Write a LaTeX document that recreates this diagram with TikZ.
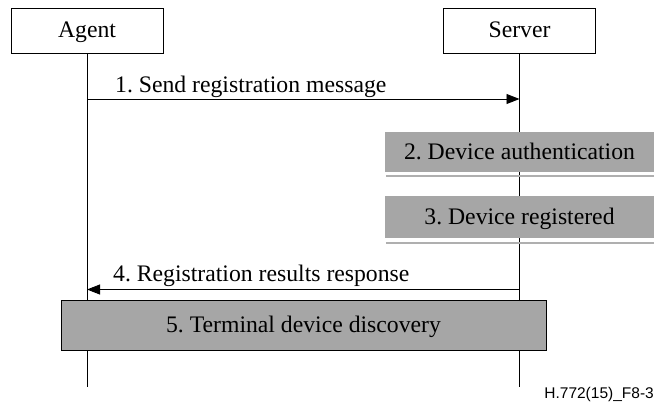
\documentclass[tikz,border=0pt]{standalone}
\usepackage{fontspec}
\setmainfont{Liberation Serif}
\newfontfamily\footfont{Liberation Sans}
\usetikzlibrary{arrows.meta}
\definecolor{boxgrey}{RGB}{166,166,166}
\definecolor{shadowgrey}{RGB}{175,175,175}
\frenchspacing
\begin{document}
\begin{tikzpicture}[x=1pt,y=-1pt,
  every node/.style={font=\fontsize{23.7}{28}\selectfont\frenchspacing, inner sep=0pt},
  boxtext/.style={text height=16pt, text depth=2pt},
  actor/.style={draw, line width=1pt, minimum width=152pt, minimum height=45pt, fill=white, text height=16pt, text depth=3pt},
  lifeline/.style={line width=0.9pt},
  msg/.style={line width=0.9pt, -{Triangle[length=13pt,width=10pt]}},
  stepgrey/.style={fill=boxgrey, boxtext},
  shadowline/.style={draw=shadowgrey, line width=2.2pt},
  bigbox/.style={fill=boxgrey, draw, line width=1pt, minimum width=485pt, minimum height=50pt, boxtext}]
\useasboundingbox (0,0) rectangle (657,416);
% actors
\node[actor] (agent) at (87,30.5) {Agent};
\node[actor] (server) at (519.5,30.5) {Server};
\coordinate (agentend) at (87,387);
\coordinate (serverend) at (519.5,387);
\draw[lifeline] (agent.south) -- (agentend);
\draw[lifeline] (server.south) -- (serverend);
% message 1
\coordinate (m1a) at (87,99);
\coordinate (m1s) at (519.5,99);
\draw[msg] (m1a) -- (m1s);
\node[anchor=base west] (l1) at (115,92) {1. Send registration message};
% step 2
\node[stepgrey, minimum width=269pt, minimum height=40pt] (s2) at (519.5,152) {2. Device authentication};
\draw[shadowline] ([xshift=1pt,yshift=-4pt]s2.south west) -- ([yshift=-4pt]s2.south east);
% step 3
\node[stepgrey, minimum width=269pt, minimum height=42pt] (s3) at (519.5,217) {3. Device registered};
\draw[shadowline] ([xshift=1pt,yshift=-5pt]s3.south west) -- ([yshift=-5pt]s3.south east);
% message 4
\coordinate (m4s) at (519.5,289.5);
\coordinate (m4a) at (87,289.5);
\draw[msg] (m4s) -- (m4a);
\node[anchor=base west] (l4) at (113,281) {4. Registration results response};
% step 5
\node[bigbox] (s5) at (303.5,325.5) {5. Terminal device discovery};
% footer
\node[anchor=base east, font=\footfont\fontsize{15.5}{18}\selectfont] (foot) at (654,398) {H.772(15)\_F8-3};
\end{tikzpicture}
\end{document}
